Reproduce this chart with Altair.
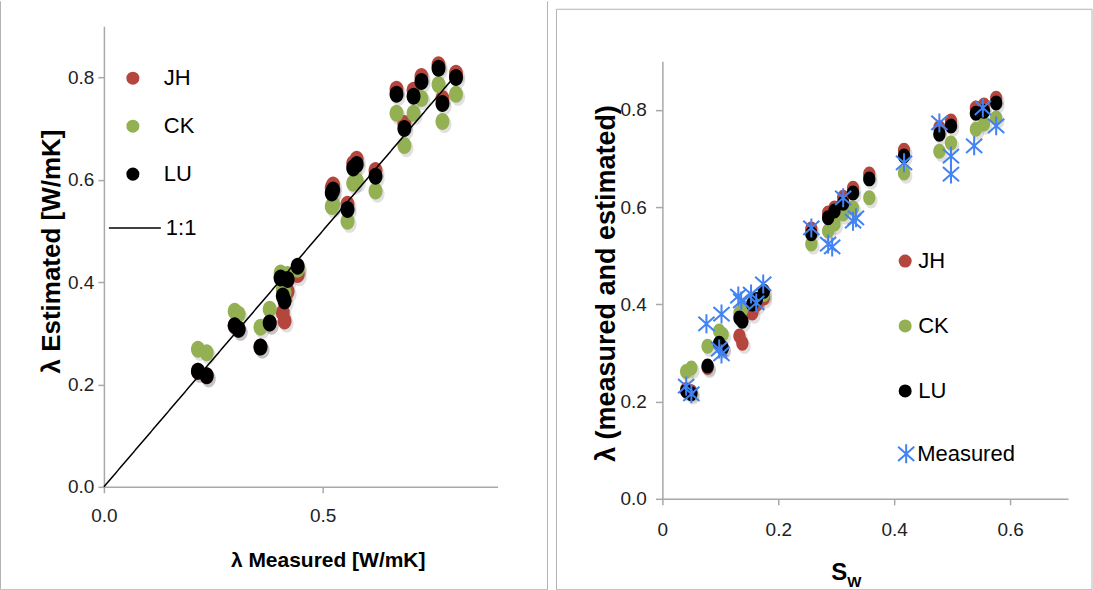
import altair as alt
import pandas as pd

# ---------------- data: left panel (measured vs estimated) ----------------
left_measured = [0.215, 0.235, 0.299, 0.308, 0.358, 0.379, 0.404, 0.420, 0.409, 0.413, 0.443,
                 0.521, 0.524, 0.557, 0.570, 0.578, 0.621, 0.669, 0.687, 0.708, 0.726, 0.765, 0.774, 0.805]
left_jh = [0.226, 0.217, 0.315, 0.308, 0.273, 0.320, 0.410, 0.382, 0.340, 0.324, 0.415,
           0.585, 0.590, 0.552, 0.632, 0.640, 0.618, 0.777, 0.710, 0.775, 0.802, 0.825, 0.759, 0.808]
left_ck = [0.269, 0.262, 0.343, 0.337, 0.312, 0.347, 0.418, 0.415, 0.386, 0.380, 0.425,
           0.548, 0.552, 0.519, 0.593, 0.598, 0.578, 0.730, 0.667, 0.730, 0.759, 0.786, 0.714, 0.767]
left_lu = [0.226, 0.217, 0.315, 0.308, 0.273, 0.320, 0.408, 0.405, 0.373, 0.363, 0.431,
           0.574, 0.580, 0.542, 0.623, 0.630, 0.607, 0.767, 0.700, 0.763, 0.792, 0.818, 0.749, 0.800]
line_x = [0.0, 0.8]
line_y = [0.0, 0.8]

# ---------------- data: right panel (Sw vs lambda) ----------------
right_sw = [0.041, 0.050, 0.078, 0.098, 0.104, 0.133, 0.138, 0.155, 0.163, 0.175,
            0.257, 0.286, 0.297, 0.312, 0.329, 0.357, 0.417, 0.478, 0.498, 0.541, 0.555, 0.576]
right_jh = [0.225, 0.220, 0.270, 0.318, 0.310, 0.335, 0.320, 0.382, 0.400, 0.413,
            0.555, 0.588, 0.598, 0.620, 0.639, 0.668, 0.717, 0.763, 0.777, 0.804, 0.810, 0.824]
right_ck = [0.262, 0.269, 0.314, 0.345, 0.338, 0.382, 0.390, 0.400, 0.410, 0.420,
            0.524, 0.551, 0.565, 0.586, 0.598, 0.619, 0.670, 0.715, 0.732, 0.760, 0.771, 0.783]
right_lu = [0.222, 0.216, 0.273, 0.320, 0.310, 0.372, 0.365, 0.400, 0.410, 0.427,
            0.545, 0.578, 0.592, 0.608, 0.629, 0.658, 0.705, 0.750, 0.767, 0.793, 0.797, 0.814]
meas_sw = [0.041, 0.050, 0.076, 0.102, 0.098, 0.102, 0.131, 0.136, 0.153, 0.162, 0.174,
           0.257, 0.286, 0.293, 0.312, 0.329, 0.334, 0.417, 0.478, 0.498, 0.498, 0.538, 0.553, 0.576]
meas_val = [0.232, 0.216, 0.360, 0.380, 0.308, 0.298, 0.417, 0.407, 0.421, 0.403, 0.442,
            0.557, 0.524, 0.518, 0.619, 0.571, 0.578, 0.691, 0.773, 0.705, 0.668, 0.726, 0.804, 0.767]

series = ["JH", "CK", "LU"]
colors = ["#b5463e", "#93b053", "#000000"]
blue = "#4282f2"
FONT = "Liberation Sans"

ELLIPSE = "M0,-1A0.82,1 0 1,1 0,1A0.82,1 0 1,1 0,-1Z"
ASTERISK = "M0,-1L0,1M-0.85,-0.75L0.85,0.75M-0.85,0.75L0.85,-0.75"


def long_df(xs, cols):
    rows = []
    for name, vals in zip(series, cols):
        for x, y in zip(xs, vals):
            rows.append({"x": x, "y": y, "series": name})
    return pd.DataFrame(rows)


left_df = long_df(left_measured, [left_jh, left_ck, left_lu])
right_df = long_df(right_sw, [right_jh, right_ck, right_lu])
meas_df = pd.DataFrame({"x": meas_sw, "y": meas_val, "series": ["Measured"] * len(meas_sw)})
line_df = pd.DataFrame({"x": line_x, "y": line_y, "series": ["1:1"] * len(line_x)})
dummy = pd.DataFrame({"a": [0]})

GRAY = "#b4b4b4"


def border(x=None, x2=None, y=None, y2=None, opacity=1.0):
    enc = {}
    if x is not None:
        enc["x"] = alt.value(x)
    if x2 is not None:
        enc["x2"] = alt.value(x2)
    if y is not None:
        enc["y"] = alt.value(y)
    if y2 is not None:
        enc["y2"] = alt.value(y2)
    return alt.Chart(dummy).mark_rule(color=GRAY, strokeWidth=1, opacity=opacity).encode(**enc)


# ---------------- left panel ----------------
LW, LH = 394, 461
lx = alt.X("x:Q", scale=alt.Scale(domain=[0, 0.9], nice=False),
           axis=alt.Axis(values=[0, 0.5], format=".1f", title="λ Measured [W/mK]",
                         titleX=224, titleY=74, titleBaseline="middle", titleFontSize=21,
                         labelPadding=14, labelFlush=False))
ly = alt.Y("y:Q", scale=alt.Scale(domain=[0, 0.9], nice=False),
           axis=alt.Axis(values=[0, 0.2, 0.4, 0.6, 0.8], format=".1f", title="λ Estimated [W/mK]",
                         titleX=-52, titleY=225, titleBaseline="middle", titleFontSize=26,
                         labelPadding=4, labelFlush=False))

left_shadow = alt.Chart(left_df).mark_point(shape=ELLIPSE, filled=True, size=300, color="#000",
                                            opacity=0.12, xOffset=2, yOffset=3).encode(x=lx, y=ly)
left_pts = alt.Chart(left_df).mark_point(shape=ELLIPSE, filled=True, size=289, opacity=1).encode(
    x=lx, y=ly,
    color=alt.Color("series:N", scale=alt.Scale(domain=series, range=colors),
                    legend=alt.Legend(orient="none", legendX=18, legendY=41, title=None,
                                      labelFontSize=22, labelFont=FONT, symbolSize=170,
                                      symbolType="circle", rowPadding=26, labelOffset=20,
                                      padding=0, symbolStrokeWidth=0, symbolOpacity=1)),
)
left_line = alt.Chart(line_df).mark_line(color="black", strokeWidth=1.5).encode(
    x="x:Q", y="y:Q",
    strokeDash=alt.StrokeDash("series:N", scale=alt.Scale(domain=["1:1"], range=[[1, 0]]),
                              legend=alt.Legend(orient="none", legendX=4, legendY=175, title=None,
                                                labelFontSize=22, labelFont=FONT, symbolSize=2704,
                                                symbolType="stroke", symbolStrokeWidth=1.5,
                                                symbolStrokeColor="black", labelOffset=4, padding=0)),
)
left = alt.layer(
    border(x=-103.5, y=-25, y2=564),
    border(x=444, y=-25, y2=564),
    border(x=-103.5, x2=444, y=564),
    left_shadow, left_pts, left_line,
).properties(width=LW, height=LH)

# ---------------- right panel ----------------
RW, RH = 406, 473
rx = alt.X("x:Q", scale=alt.Scale(domain=[0, 0.7], nice=False),
           axis=alt.Axis(values=[0, 0.2, 0.4, 0.6],
                         labelExpr="datum.value == 0 ? '0' : format(datum.value, '.1f')",
                         title=None, labelPadding=16, labelFlush=False))
ry = alt.Y("y:Q", scale=alt.Scale(domain=[0, 0.9], nice=False, range=[RH, 35]),
           axis=alt.Axis(values=[0, 0.2, 0.4, 0.6, 0.8], format=".1f",
                         title="λ  (measured and estimated)",
                         titleX=-56, titleY=257, titleBaseline="middle", titleFontSize=27,
                         labelPadding=9, tickSize=7, labelFlush=False))

right_shadow = alt.Chart(right_df).mark_point(shape=ELLIPSE, filled=True, size=240, color="#000",
                                              opacity=0.12, xOffset=2, yOffset=3).encode(x=rx, y=ry)
right_pts = alt.Chart(right_df).mark_point(shape=ELLIPSE, filled=True, size=225, opacity=1).encode(
    x=rx, y=ry,
    color=alt.Color("series:N", scale=alt.Scale(domain=series, range=colors),
                    legend=alt.Legend(orient="none", legendX=232, legendY=224, title=None,
                                      labelFontSize=22, labelFont=FONT, symbolSize=170,
                                      symbolType="circle", rowPadding=43, labelOffset=2,
                                      padding=0, symbolStrokeWidth=0, symbolOpacity=1)),
)
meas_pts = alt.Chart(meas_df).mark_point(filled=False, size=361, strokeWidth=2, color=blue,
                                         opacity=1).encode(
    x=rx, y=ry,
    shape=alt.Shape("series:N", scale=alt.Scale(domain=["Measured"], range=[ASTERISK]),
                    legend=alt.Legend(orient="none", legendX=233, legendY=417, title=None,
                                      labelFontSize=22, labelFont=FONT, symbolSize=361,
                                      symbolStrokeColor=blue, symbolStrokeWidth=2,
                                      symbolFillColor="transparent", labelOffset=0, padding=0)),
)
sw_s = alt.Chart(dummy).mark_text(text="S", font=FONT, fontWeight="bold", fontSize=24,
                                  align="center", baseline="middle", color="black").encode(
    x=alt.value(177), y=alt.value(547))
sw_w = alt.Chart(dummy).mark_text(text="W", font=FONT, fontWeight="bold", fontSize=15,
                                  align="center", baseline="middle", color="black").encode(
    x=alt.value(192), y=alt.value(556))

right = alt.layer(
    border(x=-106, y=-25, y2=564, opacity=0),
    border(x=-106, y=-17, y2=564),
    border(x=430, y=-17, y2=564),
    border(x=-106, x2=430, y=-17),
    border(x=-106, x2=430, y=564),
    right_shadow, right_pts, meas_pts, sw_s, sw_w,
).properties(width=RW, height=RH)

chart = alt.hconcat(left, right, spacing=7).resolve_scale(
    color="independent", shape="independent", strokeDash="independent"
).resolve_legend(color="independent", shape="independent", strokeDash="independent").properties(
    padding=0, background="white"
).configure_view(stroke=None).configure_axis(
    grid=False, domainColor="#a8a8a8", domainWidth=1.5, tickColor="#a8a8a8", tickWidth=1.5,
    tickSize=6, labelFont=FONT, labelFontSize=19, labelColor="#222222",
    titleFont=FONT, titleFontWeight="bold", titleColor="black"
)

chart.save("out.html", embed_options={"renderer": "svg", "actions": False})
